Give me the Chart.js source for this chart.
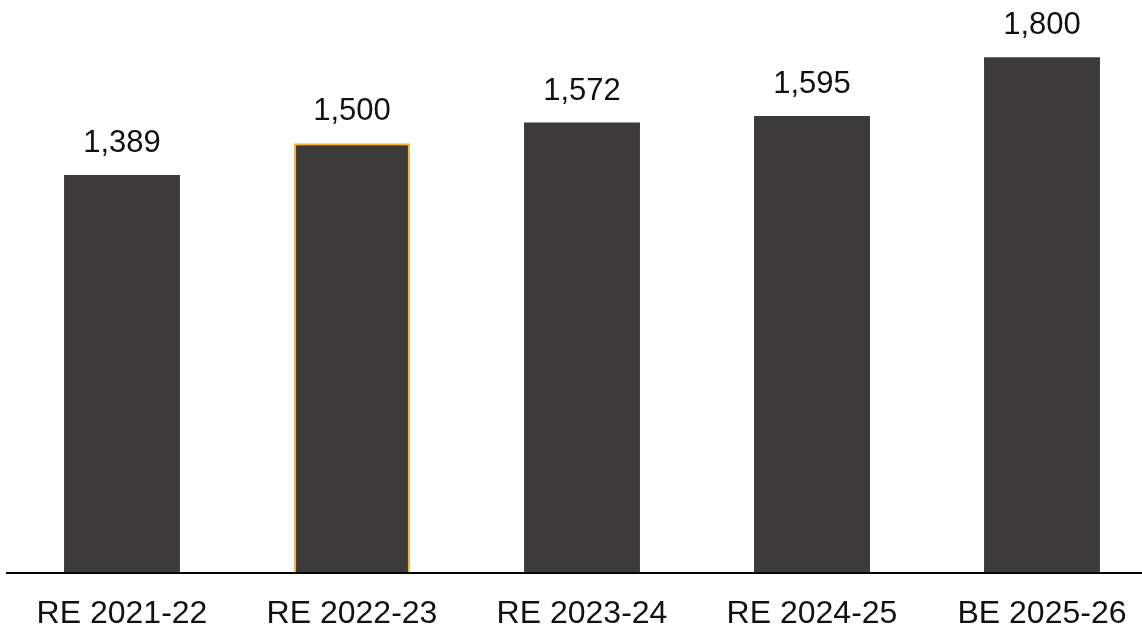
<!DOCTYPE html>
<html>
<head>
<meta charset="utf-8">
<script src="https://cdn.jsdelivr.net/npm/chart.js@4"></script>
<style>
  html, body { margin: 0; padding: 0; background: #fff; overflow: hidden; }
  #wrap { width: 1160px; height: 658px; }
</style>
</head>
<body>
<div id="wrap"><canvas id="chart"></canvas></div>
<script>
const categories = ['RE 2021-22', 'RE 2022-23', 'RE 2023-24', 'RE 2024-25', 'BE 2025-26'];
const values = [1389, 1500, 1572, 1595, 1800];
const borderWidths = [0, 2, 0, 0, 0];

// draws the numbers above each bar
const valueLabels = {
  id: 'valueLabels',
  afterDatasetsDraw(chart) {
    const ctx = chart.ctx;
    const meta = chart.getDatasetMeta(0);
    ctx.save();
    ctx.font = '31px "Liberation Sans", Arial, sans-serif';
    ctx.fillStyle = '#111';
    ctx.textAlign = 'center';
    ctx.textBaseline = 'alphabetic';
    meta.data.forEach((bar, i) => {
      ctx.fillText(values[i].toLocaleString('en-US'), bar.x, bar.y - 23);
    });
    ctx.restore();
  }
};

new Chart(document.getElementById('chart'), {
  type: 'bar',
  data: {
    labels: categories,
    datasets: [{
      data: values,
      backgroundColor: '#3c3a3b',
      borderColor: '#f5b335',
      borderWidth: borderWidths,
      borderSkipped: 'bottom',
      barPercentage: 0.504,
      categoryPercentage: 1
    }]
  },
  options: {
    responsive: true,
    maintainAspectRatio: false,
    animation: false,
    layout: { padding: { left: 7, right: 3, top: 0, bottom: 3 } },
    plugins: {
      legend: { display: false },
      tooltip: { enabled: false }
    },
    scales: {
      x: {
        grid: { display: false, drawTicks: false },
        border: { display: true, color: '#000', width: 2 },
        ticks: {
          color: '#111',
          padding: 22,
          font: { family: '"Liberation Sans", Arial, sans-serif', size: 32 }
        }
      },
      y: {
        display: false,
        min: 0,
        max: 2000
      }
    }
  },
  plugins: [valueLabels]
});
</script>
</body>
</html>
